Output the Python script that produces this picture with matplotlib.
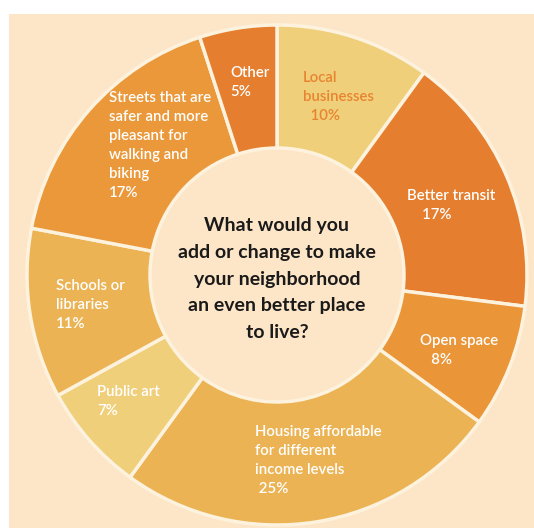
import matplotlib.pyplot as plt
from matplotlib.patches import Rectangle

# Survey answers, clockwise from 12 o'clock
categories = [
    "Local\nbusinesses",
    "Better transit",
    "Open space",
    "Housing affordable\nfor different\nincome levels",
    "Public art",
    "Schools or\nlibraries",
    "Streets that are\nsafer and more\npleasant for\nwalking and\nbiking",
    "Other",
]
shares = [10, 17, 8, 25, 7, 11, 17, 5]
colors = ["#f0cf7b", "#e57e2e", "#ea9538", "#ebb353",
          "#f0cf7b", "#ebb353", "#ea983a", "#e57e2e"]
label_colors = ["#e8842f"] + ["white"] * 7
pct_indent = ["  ", "    ", "   ", " ", "", "", "", ""]
question = ("What would you\nadd or change to make\nyour neighborhood\n"
            "an even better place\nto live?")

W, H = 534, 528
bg = "#fde6c7"
edge = "#fdf2de"

fig = plt.figure(figsize=(W / 100, H / 100), dpi=100)
ax = fig.add_axes([0, 0, 1, 1])

# peach panel, leaving a thin white margin at top and left
ax.add_patch(Rectangle((9, 0), W - 9, H - 14, facecolor=bg, edgecolor="none", zorder=0))

cx, cy = 277, H - 275
R = 250
ax.pie(shares, colors=colors, startangle=90, counterclock=False,
       radius=R, center=(cx, cy),
       wedgeprops=dict(width=R - 127, edgecolor=edge, linewidth=2.5))

# label anchor points (left edge, top of first line) in pixel space
label_xy = [(303, 71), (407, 189), (420, 334), (255, 425),
            (97, 385), (56, 279), (109, 91), (230, 66)]
for name, val, (lx, ly), tc, ind in zip(categories, shares, label_xy,
                                        label_colors, pct_indent):
    ax.text(lx, H - ly, f"{name}\n{ind}{val}%", color=tc, fontsize=10.8,
            family="Lato", fontweight="semibold", ha="left", va="top",
            linespacing=1.45)

ax.text(cx, H - 279, question, color="#1a1a1a", fontsize=14,
        family="Lato", fontweight="bold", ha="center", va="center",
        linespacing=1.68)

ax.set_xlim(0, W)
ax.set_ylim(0, H)
ax.set_aspect("auto")
ax.axis("off")
fig.savefig("out.png", dpi=100, facecolor="white")
